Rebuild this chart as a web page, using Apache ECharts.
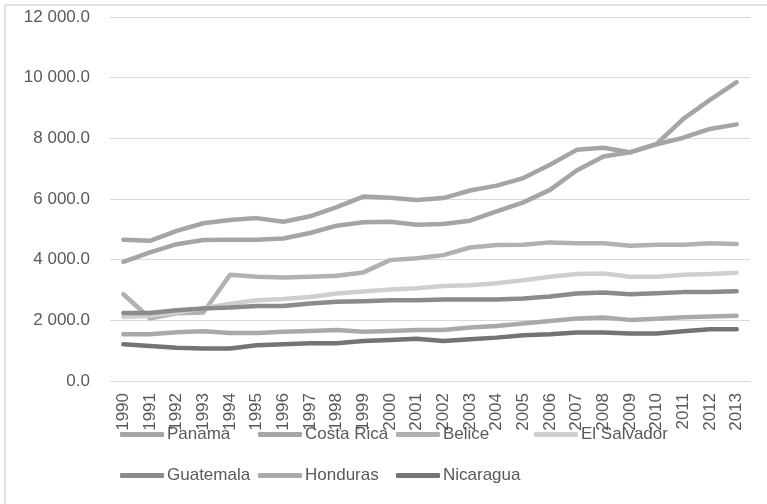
<!DOCTYPE html>
<html>
<head>
<meta charset="utf-8">
<script src="https://cdn.jsdelivr.net/npm/echarts@6/dist/echarts.min.js"></script>
<style>
  html, body { margin: 0; padding: 0; background: #fff; }
  #chart { width: 767px; height: 504px; }
</style>
</head>
<body>
<div id="chart"></div>
<script>
  // years on the x axis
  const years = ['1990', '1991', '1992', '1993', '1994', '1995', '1996', '1997', '1998', '1999', '2000', '2001',
    '2002', '2003', '2004', '2005', '2006', '2007', '2008', '2009', '2010', '2011', '2012', '2013'];

  const panama = [3930, 4240, 4510, 4650, 4660, 4660, 4700, 4880, 5120, 5230, 5250, 5150,
    5175, 5285, 5590, 5890, 6300, 6940, 7400, 7540, 7820, 8640, 9270, 9850];
  const costaRica = [4660, 4620, 4950, 5200, 5310, 5370, 5250, 5430, 5730, 6080, 6040, 5970,
    6030, 6280, 6440, 6690, 7130, 7620, 7690, 7540, 7800, 8020, 8310, 8460];
  const belice = [2860, 2070, 2235, 2260, 3500, 3435, 3410, 3435, 3470, 3580, 3985, 4050,
    4150, 4400, 4480, 4490, 4570, 4540, 4540, 4460, 4490, 4490, 4540, 4515];
  const elSalvador = [2110, 2150, 2260, 2400, 2550, 2660, 2700, 2770, 2885, 2950, 3015, 3060,
    3130, 3160, 3225, 3325, 3435, 3525, 3545, 3435, 3435, 3500, 3525, 3570];
  const guatemala = [2245, 2245, 2330, 2390, 2420, 2475, 2475, 2555, 2610, 2630, 2665, 2665,
    2690, 2690, 2690, 2720, 2785, 2885, 2920, 2860, 2895, 2930, 2930, 2960];
  const honduras = [1540, 1540, 1610, 1640, 1585, 1585, 1620, 1650, 1685, 1620, 1650, 1685,
    1685, 1760, 1815, 1895, 1980, 2060, 2090, 2015, 2050, 2100, 2130, 2150];
  const nicaragua = [1210, 1155, 1100, 1070, 1070, 1180, 1210, 1245, 1245, 1320, 1355, 1390,
    1320, 1375, 1430, 1510, 1540, 1600, 1600, 1565, 1565, 1640, 1705, 1705];

  const names = ['Panama', 'Costa Rica', 'Belice', 'El Salvador', 'Guatemala', 'Honduras', 'Nicaragua'];
  const values = [panama, costaRica, belice, elSalvador, guatemala, honduras, nicaragua];
  const colors = ['#a5a5a5', '#a5a5a5', '#b1b1b1', '#cfcfcf', '#8b8b8b', '#a9a9a9', '#747474'];

  const font = '"Liberation Sans", Arial, sans-serif';
  const txt = '#595959';

  function fmt(v) {
    let s = v.toFixed(1);
    let parts = s.split('.');
    let int = parts[0].replace(/\B(?=(\d{3})+(?!\d))/g, ' ');
    return int + '.' + parts[1];
  }

  // one legend per item so that the columns line up like in the original (4 per row)
  function legend(name, i) {
    return {
      data: [name],
      left: 120 + (i % 4) * 138,
      top: i < 4 ? 426 : 467,
      padding: 0,
      itemWidth: 44,
      itemHeight: 5,
      itemGap: 0,
      icon: 'roundRect',
      textStyle: { color: txt, fontSize: 17, fontFamily: font, padding: [0, 0, 0, -2] }
    };
  }

  let chart = echarts.init(document.getElementById('chart'));
  let option = {
    animation: false,
    color: colors,
    graphic: [{
      type: 'rect',
      shape: { x: 5, y: 5, width: 780, height: 520 },
      style: { fill: 'none', stroke: '#d9d9d9', lineWidth: 1.5 },
      silent: true
    }],
    grid: { left: 110, right: 17, top: 17, bottom: 123 },
    legend: names.map(legend),
    xAxis: {
      type: 'category',
      data: years,
      boundaryGap: true,
      axisLine: { lineStyle: { color: '#d9d9d9' } },
      axisTick: { show: false },
      axisLabel: { rotate: 90, margin: 12, color: txt, fontSize: 17, fontFamily: font, interval: 0 }
    },
    yAxis: {
      type: 'value',
      min: 0,
      max: 12000,
      interval: 2000,
      axisLine: { show: false },
      axisTick: { show: false },
      splitLine: { lineStyle: { color: '#d9d9d9', width: 1 } },
      axisLabel: { color: txt, fontSize: 17, fontFamily: font, margin: 20, formatter: fmt }
    },
    series: names.map(function (n, i) {
      return {
        name: n,
        type: 'line',
        data: values[i],
        symbol: 'none',
        lineStyle: { width: 4.5, color: colors[i], cap: 'round', join: 'round' },
        itemStyle: { color: colors[i] }
      };
    })
  };
  chart.setOption(option);
</script>
</body>
</html>
